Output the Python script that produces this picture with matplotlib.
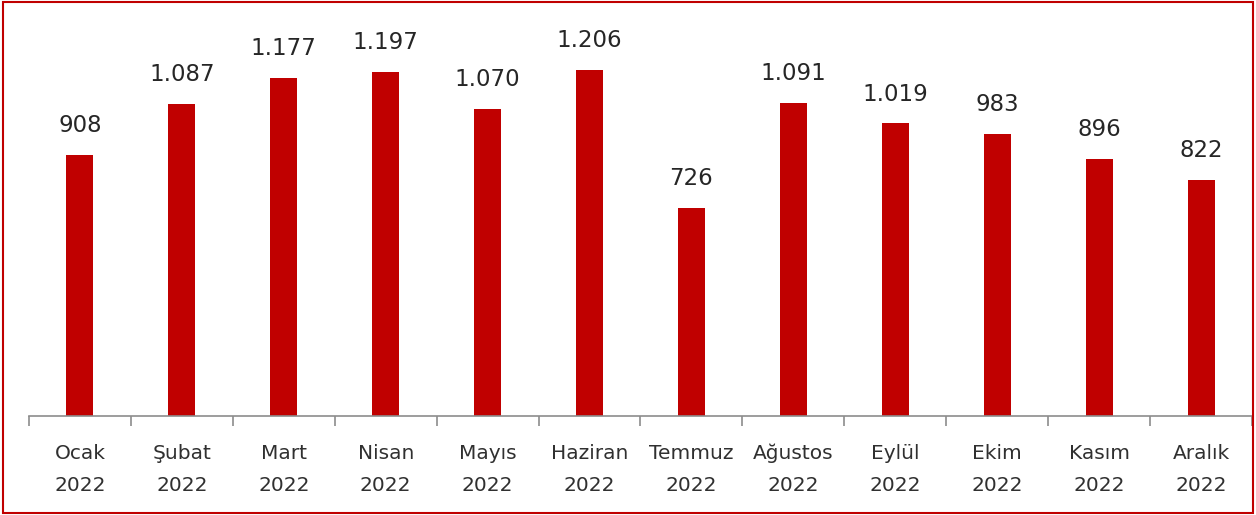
import matplotlib.pyplot as plt
import numpy as np
from matplotlib.patches import Rectangle

months = ['Ocak', 'Şubat', 'Mart', 'Nisan', 'Mayıs', 'Haziran',
          'Temmuz', 'Ağustos', 'Eylül', 'Ekim', 'Kasım', 'Aralık']
year = '2022'
values = [908, 1087, 1177, 1197, 1070, 1206, 726, 1091, 1019, 983, 896, 822]

def fmt(v):
    return f'{v:,}'.replace(',', '.')

fig = plt.figure(figsize=(12.56, 5.15), dpi=100)
ax = fig.add_axes([0.0231, 0.1922, 0.9737, 0.7806])

x = np.arange(len(months))
bars = ax.bar(x, values, width=0.265, color='#C00000')

for xi, v in zip(x, values):
    ax.text(xi, v + 62, fmt(v), ha='center', va='bottom',
            fontsize=16.5, color='#262626')

ax.set_xlim(-0.5, len(months) - 0.5)
ax.set_ylim(0, 1400)

ax.set_xticks(x)
ax.set_xticklabels([f'{m}\n{year}' for m in months], fontsize=14.5,
                   color='#303030', linespacing=1.85)
ax.tick_params(axis='x', which='major', length=0, pad=20)
ax.set_xticks(np.arange(-0.5, len(months)), minor=True)
ax.tick_params(axis='x', which='minor', length=7, width=1.2, color='#8c8c8c')
ax.set_yticks([])

for s in ['top', 'left', 'right']:
    ax.spines[s].set_visible(False)
ax.spines['bottom'].set_color('#8c8c8c')
ax.spines['bottom'].set_linewidth(1.2)

fig.patches.append(Rectangle((0.002, 0.004), 0.996, 0.993, transform=fig.transFigure,
                             fill=False, edgecolor='#C00000', linewidth=1.5))

fig.savefig('out.png', dpi=100)
